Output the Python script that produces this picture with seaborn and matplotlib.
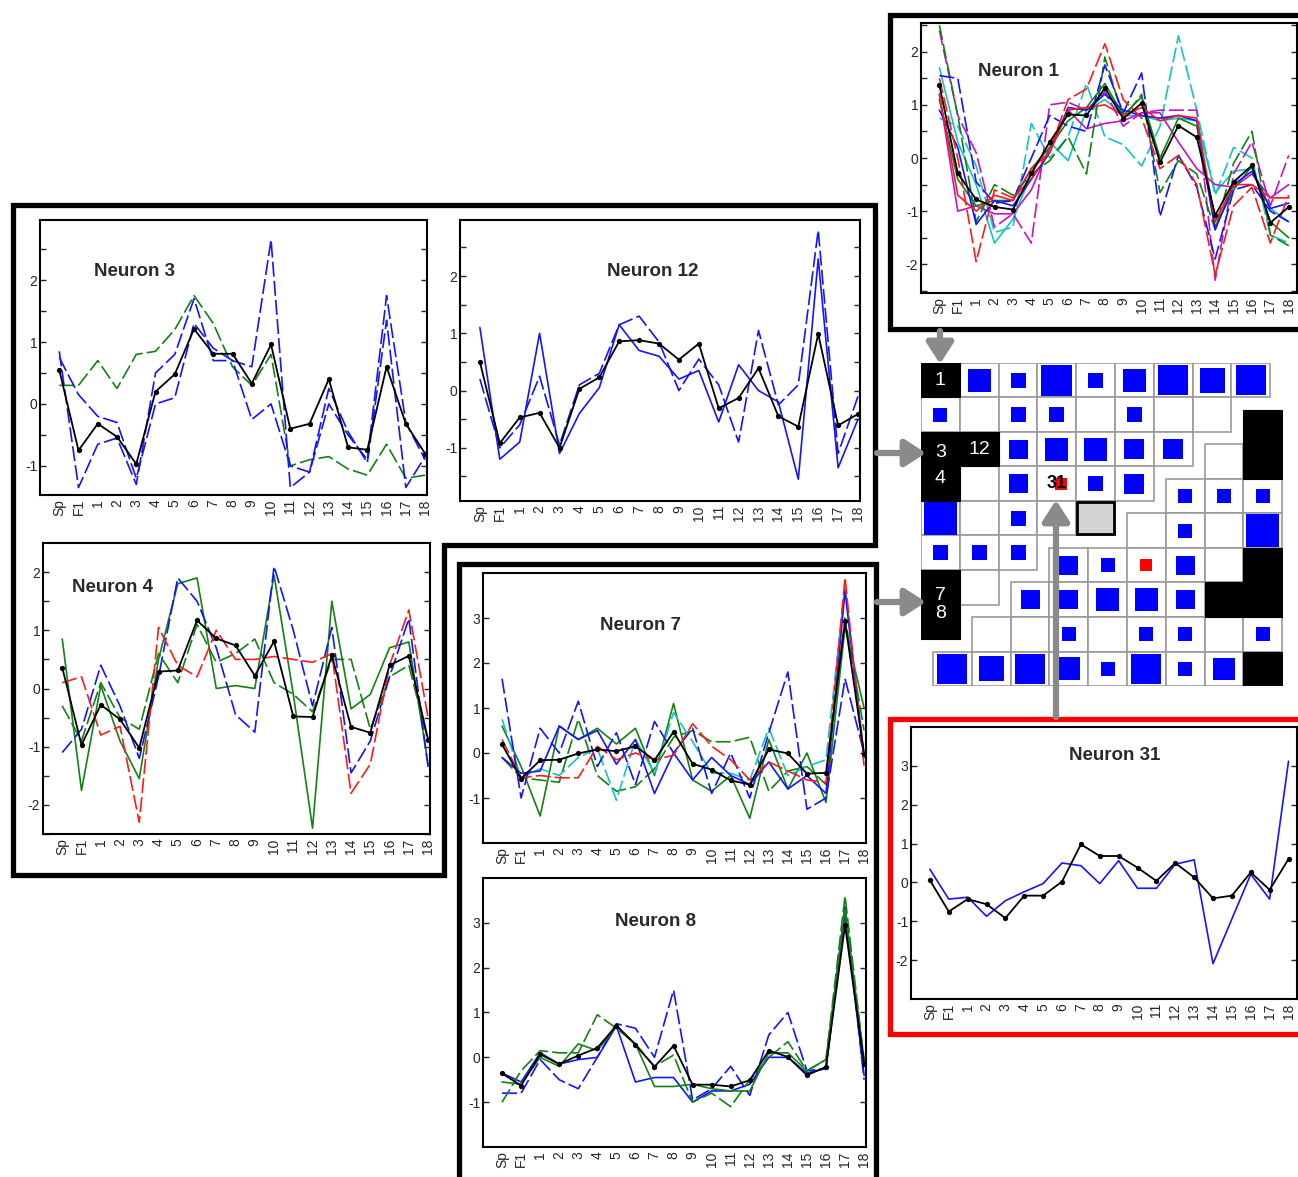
import numpy as np
import matplotlib
matplotlib.use("Agg")
import matplotlib.pyplot as plt
import seaborn as sns
from matplotlib.patches import Rectangle, Polygon

sns.set_style("white")
plt.rcParams['font.family'] = ['Liberation Sans', 'DejaVu Sans']
plt.rcParams['axes.unicode_minus'] = False

W, H = 1298, 1177
fig = plt.figure(figsize=(W / 100, H / 100), dpi=100)

# ---------------- data ----------------
x_labels = ["Sp", "F1"] + [str(i) for i in range(1, 19)]

n1_mean = [1.37, -0.29, -0.78, -0.92, -0.97, -0.29, 0.30, 0.82, 0.80, 1.32, 0.74, 1.03, -0.08, 0.61, 0.39, -1.08, -0.45, -0.14, -1.22, -0.92]
n1_red1 = [1.5, 0.0, -1.95, -0.6, -0.75, -0.4, 0.15, 1.1, 1.3, 2.15, 1.1, 0.75, -0.2, 0.05, -0.5, -2.2, -0.9, -0.55, -1.6, -0.7]
n1_red2 = [1.2, -0.7, -1.0, -0.7, -0.8, -0.2, 0.1, 0.9, 0.95, 1.0, 0.8, 0.95, 0.7, 0.8, 0.75, -1.2, -0.5, -0.5, -0.75, -0.75]
n1_blue1 = [1.55, 1.5, -0.45, -0.85, -0.8, 0.0, 0.8, 0.6, 0.5, 1.75, 0.85, 1.6, -1.1, 0.05, -0.55, -1.9, -0.6, -0.5, -1.0, -1.2]
n1_blue2 = [0.9, 0.2, -1.25, -0.8, -0.9, -0.4, 0.1, 0.95, 0.9, 1.2, 0.9, 0.8, 0.75, 0.8, 0.7, -1.35, -0.5, -0.25, -0.95, -0.85]
n1_green1 = [2.5, 0.8, -1.2, -0.5, -0.7, -0.3, -0.05, 0.4, -0.3, 1.9, 0.75, 1.2, -0.65, -0.05, -0.3, -1.35, -0.1, 0.5, -1.45, -1.65]
n1_green2 = [1.1, -0.4, -0.9, -0.8, -0.8, -0.2, 0.2, 0.7, 0.95, 1.4, 0.8, 1.15, 0.0, 0.75, 0.6, -1.3, -0.6, -0.15, -1.2, -1.5]
n1_cyan1 = [0.75, 0.6, -0.15, -1.4, -1.3, 0.65, 0.0, 0.4, 1.4, 0.4, 0.25, -0.15, 0.6, 2.3, 0.9, -0.7, 0.2, 0.0, -1.45, -1.6]
n1_cyan2 = [1.7, 0.3, -0.5, -1.6, -1.15, -0.3, 0.3, -0.05, 0.9, 1.1, 0.8, 0.8, 0.7, 0.75, 0.7, -0.65, -0.25, -0.2, -0.95, -1.2]
n1_mag1 = [2.4, 0.8, 0.1, -1.3, -1.05, -1.6, 1.0, 1.05, 0.9, 1.25, 0.6, 0.85, 0.9, 0.9, 0.9, -2.3, -0.3, 0.3, -0.9, 0.05]
n1_mag2 = [1.2, -1.0, -0.9, -1.05, -1.05, -0.6, 0.2, 0.9, 0.55, 0.65, 0.7, 0.85, 0.85, 0.3, -0.2, -0.5, -0.55, -0.3, -0.75, -0.5]

n3_mean = [0.55, -0.75, -0.32, -0.53, -0.97, 0.20, 0.48, 1.21, 0.81, 0.81, 0.33, 0.96, -0.40, -0.32, 0.40, -0.70, -0.74, 0.60, -0.32, -0.80]
n3_blue1 = [0.85, -1.35, -0.65, -0.55, -1.3, 0.5, 0.8, 1.7, 0.7, 0.7, 0.6, 2.65, -1.35, -1.1, 0.25, -0.45, -0.95, 1.35, -1.35, -0.85]
n3_blue2 = [0.75, 0.15, -0.2, -0.3, -1.2, 0.0, 0.1, 1.3, 0.9, 0.7, -0.25, 0.0, -1.0, -1.1, 0.0, -0.5, -0.9, 1.75, -0.3, -0.9]
n3_green = [0.3, 0.3, 0.7, 0.25, 0.8, 0.85, 1.2, 1.75, 1.3, 0.6, 0.3, 0.8, -1.0, -0.9, -0.85, -1.05, -1.15, -0.65, -1.2, -1.15]

n12_mean = [0.50, -0.92, -0.47, -0.39, -1.00, 0.03, 0.23, 0.86, 0.88, 0.82, 0.54, 0.82, -0.31, -0.13, 0.39, -0.45, -0.63, 0.99, -0.61, -0.41]
n12_blue1 = [1.1, -1.2, -0.9, 1.0, -1.1, -0.4, 0.05, 1.15, 0.7, 0.6, 0.2, 0.35, -0.55, 0.45, 0.0, -0.2, -1.55, 2.3, -1.35, -0.5]
n12_blue2 = [0.2, -1.0, -0.6, 0.25, -0.95, 0.1, 0.3, 1.15, 1.3, 0.85, 0.0, 0.55, 0.1, -0.9, 1.05, -0.25, 0.1, 2.8, -1.1, -0.1]

n4_mean = [0.36, -0.97, -0.28, -0.53, -1.02, 0.29, 0.31, 1.17, 0.86, 0.74, 0.22, 0.81, -0.48, -0.49, 0.57, -0.66, -0.76, 0.40, 0.56, -0.88]
n4_blue = [-1.1, -0.7, 0.4, -0.3, -1.2, 0.2, 1.9, 1.5, 0.7, -0.45, -0.75, 2.1, 1.0, -0.3, 1.05, -1.45, -0.9, 0.2, 1.2, -1.35]
n4_green1 = [0.85, -1.75, 0.05, -0.9, -1.55, 0.5, 1.8, 1.9, 0.0, 0.05, 0.0, 1.95, -0.1, -2.4, 1.5, -0.35, -0.1, 0.7, 0.8, -1.3]
n4_green2 = [-0.3, -0.9, 0.1, -0.5, -0.7, 0.6, 0.1, 1.1, 0.45, 0.6, 0.85, 0.1, -0.1, -0.4, 0.5, 0.5, -0.7, 0.2, 0.4, -0.9]
n4_red = [0.1, 0.2, -0.8, -0.65, -2.3, 1.05, 0.4, 0.2, 1.0, 0.5, 0.5, 0.55, 0.5, 0.45, 0.6, -1.8, -1.3, 0.4, 1.35, -0.5]

n7_mean = [0.19, -0.57, -0.16, -0.15, -0.01, 0.08, 0.04, 0.15, -0.16, 0.47, -0.24, -0.37, -0.61, -0.70, 0.08, -0.01, -0.46, -0.44, 2.93, -0.03]
n7_blue1 = [1.65, -1.0, 0.55, 0.0, 1.15, -0.3, 0.45, -0.7, 0.7, 0.0, 0.55, -0.9, 0.0, -1.0, 0.45, 1.8, -1.25, -1.0, 1.65, 0.0]
n7_blue2 = [-0.1, -0.45, -0.4, 0.6, 0.3, 0.5, -0.25, 0.3, -0.9, 0.0, -0.6, -0.1, -0.5, -0.7, -0.2, -0.8, -0.5, -0.9, 3.6, -0.1]
n7_green1 = [0.6, -0.3, -1.4, 0.6, 0.3, 0.55, 0.2, 0.55, -0.5, 1.1, -0.6, -0.85, -0.5, -1.45, 0.3, -0.8, 0.0, -1.1, 2.8, 1.0]
n7_green2 = [-0.1, -0.55, -0.6, -0.65, 0.75, -0.5, -0.85, -0.75, -0.35, 0.35, 0.5, 0.25, 0.25, 0.35, -0.85, -0.4, -0.3, -0.7, 3.0, 0.5]
n7_cyan = [0.75, -0.55, -0.35, -0.5, -0.1, 0.1, -1.05, 0.3, -0.45, 0.9, 0.25, -0.45, -0.45, -0.6, 0.55, -0.5, -0.3, -0.15, 3.7, -0.05]
n7_red = [0.3, -0.55, -0.5, -0.55, -0.55, 0.15, -0.15, 0.0, -0.15, -0.05, 0.65, 0.15, -0.15, -0.6, -0.2, -0.4, -0.6, -0.65, 3.9, -0.3]

n8_mean = [-0.36, -0.63, 0.07, -0.15, 0.04, 0.21, 0.71, 0.28, -0.21, 0.26, -0.61, -0.61, -0.65, -0.51, 0.15, 0.01, -0.40, -0.21, 2.95, -0.15]
n8_blue1 = [-0.8, -0.8, -0.05, -0.5, -0.7, 0.0, 0.75, 0.65, 0.0, 1.5, -0.95, -0.7, -0.2, -0.85, 0.5, 1.0, -0.3, -0.25, 3.4, -0.5]
n8_blue2 = [-0.35, -0.55, 0.1, -0.15, -0.05, 0.0, 0.7, -0.55, -0.45, -0.45, -1.0, -0.75, -0.75, -0.6, 0.0, 0.0, -0.35, -0.25, 3.2, -0.4]
n8_green1 = [-1.0, -0.3, 0.15, 0.1, 0.1, 0.95, 0.65, 0.3, -0.2, 0.05, -1.0, -0.8, -1.1, -0.5, 0.0, 0.35, -0.3, -0.05, 3.6, -0.1]
n8_green2 = [-0.55, -0.6, 0.0, -0.2, 0.3, 0.15, 0.7, 0.3, -0.65, -0.65, -0.6, -0.7, -0.75, -0.75, 0.1, 0.1, -0.3, -0.05, 3.3, -0.05]

n31_mean = [0.06, -0.75, -0.43, -0.56, -0.92, -0.34, -0.34, 0.02, 0.98, 0.68, 0.68, 0.38, 0.04, 0.50, 0.13, -0.41, -0.34, 0.26, -0.19, 0.60]
n31_blue = [0.34, -0.43, -0.38, -0.87, -0.47, -0.24, -0.03, 0.50, 0.43, -0.03, 0.56, -0.15, -0.15, 0.47, 0.58, -2.09, -0.94, 0.21, -0.43, 3.12]

# SOM map: lattice (0 = upper-left grid, 1 = shifted lower-right grid), row, col, kind, hits (square size), label
som_lattice = [0]*9 + [0]*8 + [0]*7 + [0]*6 + [0]*5 + [0]*3 + [0]*2 + [0] + \
              [1] + [1]*2 + [1]*3 + [1]*4 + [1]*6 + [1]*7 + [1]*8 + [1]*9
som_row = [0]*9 + [1]*8 + [2]*7 + [3]*6 + [4]*5 + [5]*3 + [6]*2 + [7] + \
          [1] + [2]*2 + [3]*3 + [4]*4 + [5]*6 + [6]*7 + [7]*8 + [8]*9
som_col = list(range(9)) + list(range(8)) + list(range(7)) + list(range(6)) + list(range(5)) + list(range(3)) + [0, 1] + [0] + \
          [8] + [7, 8] + [6, 7, 8] + [5, 6, 7, 8] + [3, 4, 5, 6, 7, 8] + [2, 3, 4, 5, 6, 7, 8] + [1, 2, 3, 4, 5, 6, 7, 8] + list(range(9))
som_kind = ['k', 'b', 'b', 'b', 'b', 'b', 'b', 'b', 'b',
            'b', 'e', 'b', 'b', 'e', 'b', 'e', 'e',
            'k', 'k', 'b', 'b', 'b', 'b', 'b',
            'k', 'e', 'b', 'r', 'b', 'b',
            'b', 'e', 'b', 'e', 'g',
            'b', 'b', 'b',
            'k', 'e',
            'k',
            'k',
            'e', 'k',
            'b', 'b', 'b',
            'e', 'b', 'e', 'b',
            'b', 'b', 'r', 'b', 'e', 'k',
            'b', 'b', 'b', 'b', 'b', 'k', 'k',
            'e', 'e', 'b', 'e', 'b', 'b', 'e', 'b',
            'b', 'b', 'b', 'b', 'b', 'b', 'b', 'b', 'k']
som_hits = [0, 23, 15, 31, 15, 23, 30, 25, 30,
            14, 0, 15, 15, 0, 15, 0, 0,
            0, 0, 19, 23, 23, 20, 20,
            0, 0, 19, 12, 15, 20,
            33, 0, 15, 0, 0,
            15, 15, 15,
            0, 0,
            0,
            0,
            0, 0,
            14, 14, 14,
            0, 14, 0, 33,
            19, 14, 12, 19, 0, 0,
            19, 19, 23, 23, 19, 0, 0,
            0, 0, 14, 0, 14, 14, 0, 14,
            30, 25, 30, 23, 14, 30, 14, 22, 0]
som_label = {(0, 0, 0): "1", (0, 2, 0): "3", (0, 2, 1): "12", (0, 3, 0): "4",
             (0, 6, 0): "7", (0, 7, 0): "8"}

xpos = np.arange(len(x_labels))


def fr(l, t, r, b):
    return [l / W, 1 - b / H, (r - l) / W, (b - t) / H]


C_BLUE, C_GREEN, C_RED, C_CYAN, C_MAG = '#1414ff', '#128212', '#ff1a1a', '#12c4c4', '#c414c4'
DASH = (0, (9, 2.5))


def panel(px, mean, series, ylim, yticks, yminor, title, title_xy, xmax=19.1):
    ax = fig.add_axes(fr(*px))
    for vals, col, ls in series:
        sns.lineplot(x=xpos, y=vals, ax=ax, color=col, linewidth=1.2, linestyle=ls, legend=False)
    sns.lineplot(x=xpos, y=mean, ax=ax, color='black', linewidth=1.3, marker='o',
                 markersize=3.8, markeredgewidth=0, legend=False)
    ax.set_xlim(-1, xmax)
    ax.set_ylim(*ylim)
    ax.set_xticks(xpos)
    ax.set_xticklabels(x_labels, rotation=90, fontsize=10)
    ax.set_xticks(np.arange(1, 20, 2), minor=True)
    ax.set_yticks(yticks)
    ax.set_yticklabels([str(v) for v in yticks], fontsize=10)
    if yminor:
        ax.set_yticks(np.arange(np.ceil(ylim[0] * 2) / 2, ylim[1], 0.5), minor=True)
    ax.tick_params(axis='x', which='major', length=0, pad=3)
    ax.tick_params(axis='x', which='minor', direction='in', length=4, width=1, top=True, bottom=True)
    ax.tick_params(axis='y', which='both', direction='in', length=4, width=1, left=True, right=True, pad=2)
    for s in ax.spines.values():
        s.set_linewidth(1.5)
        s.set_color('black')
    ax.set_xlabel('')
    ax.set_ylabel('')
    fig.text(title_xy[0] / W, 1 - title_xy[1] / H, title, ha='center', va='center',
             fontsize=13.5, fontweight='bold', color='#2a2a2a')
    return ax


panel((921, 23, 1297, 293), n1_mean,
      [(n1_cyan1, C_CYAN, DASH), (n1_cyan2, C_CYAN, '-'), (n1_mag1, C_MAG, DASH), (n1_mag2, C_MAG, '-'),
       (n1_green1, C_GREEN, DASH), (n1_green2, C_GREEN, '-'), (n1_blue1, C_BLUE, DASH),
       (n1_blue2, C_BLUE, '-'), (n1_red1, C_RED, DASH), (n1_red2, C_RED, '-')],
      (-2.54, 2.54), [-2, -1, 0, 1, 2], True, "Neuron 1", (1018, 72), xmax=19.45)

panel((40, 220, 427, 495), n3_mean,
      [(n3_green, C_GREEN, DASH), (n3_blue1, C_BLUE, DASH), (n3_blue2, C_BLUE, DASH)],
      (-1.47, 2.97), [-1, 0, 1, 2], True, "Neuron 3", (135, 272))

panel((460, 220, 860, 501), n12_mean,
      [(n12_blue1, C_BLUE, '-'), (n12_blue2, C_BLUE, DASH)],
      (-1.93, 2.98), [-1, 0, 1, 2], True, "Neuron 12", (653, 272))

panel((43, 543, 430, 834), n4_mean,
      [(n4_green1, C_GREEN, '-'), (n4_green2, C_GREEN, DASH), (n4_blue, C_BLUE, DASH), (n4_red, C_RED, DASH)],
      (-2.5, 2.5), [-2, -1, 0, 1, 2], True, "Neuron 4", (112, 587))

panel((483, 573, 866, 843), n7_mean,
      [(n7_green1, C_GREEN, '-'), (n7_green2, C_GREEN, DASH), (n7_cyan, C_CYAN, DASH),
       (n7_blue1, C_BLUE, DASH), (n7_blue2, C_BLUE, '-'), (n7_red, C_RED, DASH)],
      (-2.0, 4.0), [-1, 0, 1, 2, 3], False, "Neuron 7", (641, 626))

panel((483, 878, 866, 1147), n8_mean,
      [(n8_blue1, C_BLUE, DASH), (n8_blue2, C_BLUE, '-'), (n8_green1, C_GREEN, DASH), (n8_green2, C_GREEN, '-')],
      (-2.0, 4.0), [-1, 0, 1, 2, 3], False, "Neuron 8", (656, 922))

panel((911, 727, 1297, 999), n31_mean,
      [(n31_blue, C_BLUE, '-')],
      (-3.0, 4.0), [-2, -1, 0, 1, 2, 3], False, "Neuron 31", (1115, 756), xmax=19.45)

# ---------------- SOM map ----------------
CW, CH = 38.8, 34.5
som_ax = fig.add_axes(fr(921, 363, 921 + CW * 9.33, 363 + CH * 9.36))
som_ax.set_xlim(0, 9.33)
som_ax.set_ylim(9.36, 0)
som_ax.axis('off')
offx, offy = 12 / CW, 12.5 / CH
for lat, r, c, k, h in zip(som_lattice, som_row, som_col, som_kind, som_hits):
    x0 = c + (offx if lat else 0)
    y0 = r + (offy if lat else 0)
    if k == 'k':
        som_ax.add_patch(Rectangle((x0, y0), 1, 1, facecolor='black', edgecolor='black', lw=0.8, zorder=3))
    elif k == 'g':
        som_ax.add_patch(Rectangle((x0, y0), 1, 1, facecolor='white', edgecolor='#9a9a9a', lw=1.2, zorder=1))
        som_ax.add_patch(Rectangle((x0 + 0.03, y0 + 0.03), 0.94, 0.94, facecolor='#d4d4d4',
                                   edgecolor='black', lw=2, zorder=4))
    else:
        som_ax.add_patch(Rectangle((x0, y0), 1, 1, facecolor='white', edgecolor='#9a9a9a', lw=1.2, zorder=1))
        if k in ('b', 'r'):
            sw, sh = h / CW, h / CH
            col = '#0000ff' if k == 'b' else '#ff0000'
            cx = x0 + 0.5 + (0.12 if k == 'r' and lat == 0 else 0)
            som_ax.add_patch(Rectangle((cx - sw / 2, y0 + 0.5 - sh / 2), sw, sh,
                                       facecolor=col, edgecolor='none', zorder=2))
    key = (lat, r, c)
    if key in som_label:
        dy = 0.5
        if som_label[key] == "7":
            dy = 0.75
        if som_label[key] == "8":
            dy = 0.25
        if som_label[key] == "3":
            dy = 0.6
        if som_label[key] == "4":
            dy = 0.35
        som_ax.text(x0 + 0.5, y0 + dy, som_label[key], color='white', ha='center', va='center',
                    fontsize=14, zorder=5)
    if k == 'r' and lat == 0:
        som_ax.text(x0 + 0.5, y0 + 0.5, "31", color='black', ha='center', va='center',
                    fontsize=13, fontweight='bold', zorder=5)

# ---------------- frames and arrows ----------------
ov = fig.add_axes([0, 0, 1, 1], zorder=20)
ov.set_xlim(0, W)
ov.set_ylim(H, 0)
ov.axis('off')
ov.patch.set_alpha(0)
LW = 3.8
ov.add_patch(Polygon([(13, 205), (875, 205), (875, 545), (444, 545), (444, 875), (13, 875)],
                     closed=True, fill=False, edgecolor='black', lw=LW, joinstyle='miter'))
ov.add_patch(Polygon([(459, 1190), (459, 564), (876, 564), (876, 1190)],
                     closed=False, fill=False, edgecolor='black', lw=LW, joinstyle='miter'))
ov.add_patch(Polygon([(1310, 15), (890, 15), (890, 329), (1310, 329)],
                     closed=False, fill=False, edgecolor='black', lw=LW, joinstyle='miter'))
ov.add_patch(Polygon([(1310, 719), (890, 719), (890, 1034), (1310, 1034)],
                     closed=False, fill=False, edgecolor='#ff0000', lw=LW, joinstyle='miter'))

arrow_kw = dict(arrowstyle='-|>,head_width=0.45,head_length=0.7', lw=4.5, color='#8a8a8a',
                shrinkA=0, shrinkB=0, mutation_scale=18)
ov.annotate('', xy=(940, 364), xytext=(940, 331), arrowprops=arrow_kw)
ov.annotate('', xy=(926, 453), xytext=(877, 453), arrowprops=arrow_kw)
ov.annotate('', xy=(926, 602), xytext=(877, 602), arrowprops=arrow_kw)
ov.annotate('', xy=(1056, 500), xytext=(1056, 717), arrowprops=arrow_kw)

fig.savefig("out.png", dpi=100, facecolor='white')
